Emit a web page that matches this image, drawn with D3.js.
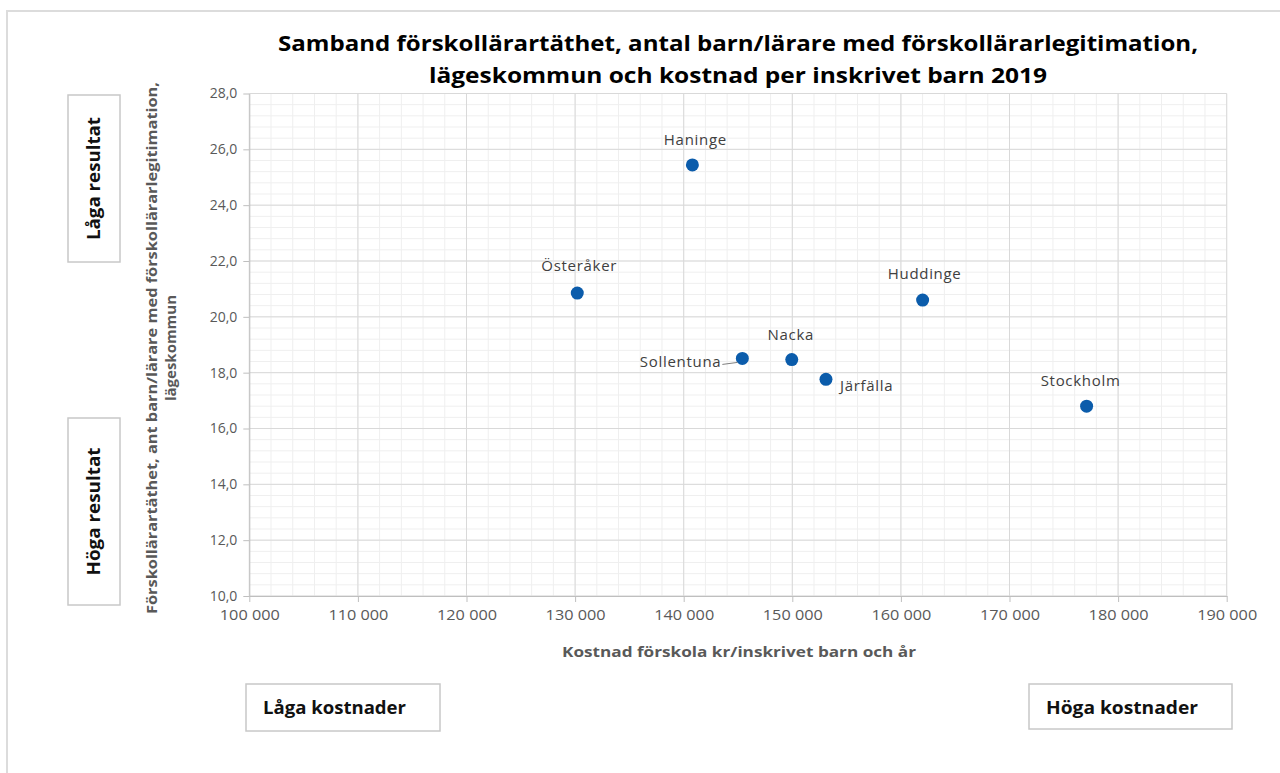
<!DOCTYPE html>
<html>
<head>
<meta http-equiv="Content-Type" content="text/html; charset=utf-8" />
<script src="https://cdn.jsdelivr.net/npm/d3@7"></script>
<title>Samband förskollärartäthet</title>
<style>
  body { margin: 0; background: #fff; }
  text { font-family: "Open Sans", "DejaVu Sans", sans-serif; }
</style>
</head>
<body>
<svg width="1280" height="773" id="mainsvg"></svg>
<script>
// data
const kommuner = ['Haninge', 'Österåker', 'Sollentuna', 'Nacka', 'Järfälla', 'Huddinge', 'Stockholm'];
const kostnad = [140800, 130200, 145400, 149950, 153100, 162000, 177100];
const tathet = [25.44, 20.85, 18.51, 18.47, 17.76, 20.60, 16.80];

const xTicks = [100000, 110000, 120000, 130000, 140000, 150000, 160000, 170000, 180000, 190000];
const yTicks = [10, 12, 14, 16, 18, 20, 22, 24, 26, 28];

const titleLines = ['Samband förskollärartäthet, antal barn/lärare med förskollärarlegitimation,',
                    'lägeskommun och kostnad per inskrivet barn 2019'];
const yTitleLines = ['Förskollärartäthet, ant barn/lärare med förskollärarlegitimation,', 'lägeskommun'];
const xTitle = 'Kostnad förskola kr/inskrivet barn och år';

// label placement per point (style only)
const labelPos = {
  'Haninge':   {dx: 3,  dy: -20, anchor: 'middle'},
  'Österåker': {dx: 2,  dy: -22, anchor: 'middle'},
  'Sollentuna':{dx: -21, dy: 9,  anchor: 'end', leader: true},
  'Nacka':     {dx: -1, dy: -20, anchor: 'middle'},
  'Järfälla':  {dx: 14, dy: 12,  anchor: 'start'},
  'Huddinge':  {dx: 2,  dy: -21, anchor: 'middle'},
  'Stockholm': {dx: -6, dy: -20, anchor: 'middle'}
};

const points = kommuner.map((k, i) => ({name: k, x: kostnad[i], y: tathet[i]}));

const svg = d3.select('#mainsvg');
const locale = d3.formatLocale({decimal: ',', thousands: ' ', grouping: [3], currency: ['', '']});
const fx = locale.format(',d');
const fy = locale.format('.1f');

// outer frame (left + top only visible)
svg.append('path')
  .attr('d', 'M7,773 L7,11 L1280,11')
  .attr('fill', 'none').attr('stroke', '#dcdcdc').attr('stroke-width', 2);

const x = d3.scaleLinear().domain([100000, 190000]).range([249.3, 1226.7]);
const y = d3.scaleLinear().domain([10, 28]).range([596, 93.5]);

const g = svg.append('g');

// minor grid
const xMinor = d3.range(100000, 190001, 2000);
const yMinor = d3.range(10, 28.01, 0.4);
g.selectAll('.xminor').data(xMinor).join('line')
  .attr('class', 'xminor')
  .attr('x1', d => x(d)).attr('x2', d => x(d))
  .attr('y1', y(10)).attr('y2', y(28))
  .attr('stroke', '#efefef').attr('stroke-width', 1);
g.selectAll('.yminor').data(yMinor).join('line')
  .attr('class', 'yminor')
  .attr('x1', x(100000)).attr('x2', x(190000))
  .attr('y1', d => y(d)).attr('y2', d => y(d))
  .attr('stroke', '#efefef').attr('stroke-width', 1);

// major grid
g.selectAll('.xmajor').data(xTicks).join('line')
  .attr('class', 'xmajor')
  .attr('x1', d => x(d)).attr('x2', d => x(d))
  .attr('y1', y(10)).attr('y2', y(28))
  .attr('stroke', '#d9d9d9').attr('stroke-width', 1);
g.selectAll('.ymajor').data(yTicks).join('line')
  .attr('class', 'ymajor')
  .attr('x1', x(100000)).attr('x2', x(190000))
  .attr('y1', d => y(d)).attr('y2', d => y(d))
  .attr('stroke', '#d9d9d9').attr('stroke-width', 1);

// axes
const xAxis = svg.append('g')
  .attr('transform', `translate(0,${y(10)})`)
  .call(d3.axisBottom(x).tickValues(xTicks).tickFormat(fx).tickSize(6).tickSizeOuter(0).tickPadding(8));
const yAxis = svg.append('g')
  .attr('transform', `translate(${x(100000)},0)`)
  .call(d3.axisLeft(y).tickValues(yTicks).tickFormat(fy).tickSize(6).tickSizeOuter(0).tickPadding(6));
[xAxis, yAxis].forEach(a => {
  a.select('.domain').attr('stroke', '#bfbfbf');
  a.selectAll('.tick line').attr('stroke', '#bfbfbf');
  a.selectAll('.tick text').attr('fill', '#595959')
    .style('font-family', '"Open Sans", sans-serif').style('font-size', '14px');
});
xAxis.selectAll('.tick text').attr('textLength', 60).attr('lengthAdjust', 'spacingAndGlyphs');

// points
svg.selectAll('.dot').data(points).join('circle')
  .attr('class', 'dot')
  .attr('cx', d => x(d.x)).attr('cy', d => y(d.y))
  .attr('r', 6.5).attr('fill', '#0b5cab');

// leader line
svg.selectAll('.leader').data(points.filter(d => labelPos[d.name].leader)).join('line')
  .attr('class', 'leader')
  .attr('x1', d => x(d.x) - 20).attr('y1', d => y(d.y) + 6)
  .attr('x2', d => x(d.x) - 5).attr('y2', d => y(d.y) + 4)
  .attr('stroke', '#7f7f7f').attr('stroke-width', 1);

// labels
svg.selectAll('.lbl').data(points).join('text')
  .attr('class', 'lbl')
  .attr('x', d => x(d.x) + labelPos[d.name].dx)
  .attr('y', d => y(d.y) + labelPos[d.name].dy)
  .attr('text-anchor', d => labelPos[d.name].anchor)
  .attr('fill', '#404040').attr('font-size', 15).attr('letter-spacing', 0.7)
  .text(d => d.name);

// title
const titleW = [920, 618];
svg.selectAll('.title').data(titleLines).join('text')
  .attr('class', 'title')
  .attr('x', 738).attr('y', (d, i) => 51 + i * 32)
  .attr('text-anchor', 'middle')
  .attr('font-size', 22).attr('font-weight', 'bold').attr('fill', '#000')
  .attr('textLength', (d, i) => titleW[i]).attr('lengthAdjust', 'spacingAndGlyphs')
  .text(d => d);

// y axis title
const yTitleW = [532, 106];
svg.selectAll('.ytitle').data(yTitleLines).join('text')
  .attr('class', 'ytitle')
  .attr('transform', (d, i) => `translate(${157 + i * 19},${348}) rotate(-90)`)
  .attr('text-anchor', 'middle')
  .attr('font-size', 14).attr('font-weight', 'bold').attr('fill', '#595959')
  .attr('textLength', (d, i) => yTitleW[i]).attr('lengthAdjust', 'spacingAndGlyphs')
  .text(d => d);

// x axis title
svg.append('text')
  .attr('x', 739).attr('y', 657)
  .attr('text-anchor', 'middle')
  .attr('font-size', 14).attr('font-weight', 'bold').attr('fill', '#595959')
  .attr('textLength', 354).attr('lengthAdjust', 'spacingAndGlyphs')
  .text(xTitle);

// annotation boxes
const boxes = [
  {t: 'Låga resultat', x: 68, y: 95, w: 52, h: 167, rot: true, len: 123},
  {t: 'Höga resultat', x: 68, y: 418, w: 52, h: 187, rot: true, len: 128},
  {t: 'Låga kostnader', x: 246, y: 684, w: 194, h: 47, rot: false, len: 143},
  {t: 'Höga kostnader', x: 1029, y: 684, w: 203, h: 45, rot: false, len: 152}
];
const bg = svg.selectAll('.box').data(boxes).join('g').attr('class', 'box');
bg.append('rect')
  .attr('x', d => d.x).attr('y', d => d.y).attr('width', d => d.w).attr('height', d => d.h)
  .attr('fill', '#fff').attr('stroke', '#c8c8c8').attr('stroke-width', 1.5);
bg.append('text')
  .attr('transform', d => d.rot
    ? `translate(${d.x + d.w / 2 + 6},${d.y + d.h / 2}) rotate(-90)`
    : `translate(${d.x + 17},${d.y + 30})`)
  .attr('text-anchor', d => d.rot ? 'middle' : 'start')
  .attr('font-size', 17).attr('font-weight', 'bold').attr('fill', '#111')
  .attr('textLength', d => d.len).attr('lengthAdjust', 'spacingAndGlyphs')
  .text(d => d.t);
</script>
</body>
</html>
